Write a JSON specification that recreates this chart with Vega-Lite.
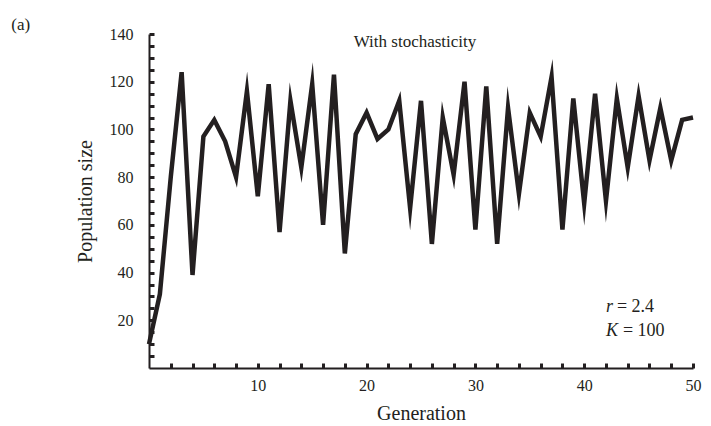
{
  "$schema": "https://vega.github.io/schema/vega-lite/v6.json",
  "width": 544,
  "height": 334,
  "autosize": {"type": "none"},
  "padding": {"left": 149, "top": 34, "right": 18, "bottom": 58},
  "background": "white",
  "config": {
    "view": {"stroke": null},
    "font": "Liberation Serif",
    "axis": {
      "labelFont": "Liberation Serif",
      "titleFont": "Liberation Serif",
      "labelFontSize": 16,
      "titleFontSize": 20,
      "titleFontWeight": "normal",
      "labelColor": "#231f20",
      "titleColor": "#231f20",
      "domainColor": "#231f20",
      "tickColor": "#231f20",
      "domainWidth": 2,
      "grid": false,
      "labelOverlap": false
    }
  },
  "data": {
    "values": [
      {"generation": 0, "population": 10},
      {"generation": 1, "population": 31},
      {"generation": 2, "population": 80},
      {"generation": 3, "population": 124},
      {"generation": 4, "population": 39},
      {"generation": 5, "population": 97},
      {"generation": 6, "population": 104},
      {"generation": 7, "population": 95},
      {"generation": 8, "population": 80},
      {"generation": 9, "population": 116},
      {"generation": 10, "population": 72},
      {"generation": 11, "population": 119},
      {"generation": 12, "population": 57},
      {"generation": 13, "population": 112},
      {"generation": 14, "population": 84},
      {"generation": 15, "population": 119},
      {"generation": 16, "population": 60},
      {"generation": 17, "population": 123},
      {"generation": 18, "population": 48},
      {"generation": 19, "population": 98},
      {"generation": 20, "population": 107},
      {"generation": 21, "population": 96},
      {"generation": 22, "population": 100},
      {"generation": 23, "population": 112},
      {"generation": 24, "population": 67},
      {"generation": 25, "population": 112},
      {"generation": 26, "population": 52},
      {"generation": 27, "population": 105},
      {"generation": 28, "population": 81},
      {"generation": 29, "population": 120},
      {"generation": 30, "population": 58},
      {"generation": 31, "population": 118},
      {"generation": 32, "population": 52},
      {"generation": 33, "population": 109},
      {"generation": 34, "population": 73},
      {"generation": 35, "population": 107},
      {"generation": 36, "population": 97},
      {"generation": 37, "population": 122},
      {"generation": 38, "population": 58},
      {"generation": 39, "population": 113},
      {"generation": 40, "population": 69},
      {"generation": 41, "population": 115},
      {"generation": 42, "population": 70},
      {"generation": 43, "population": 113},
      {"generation": 44, "population": 84},
      {"generation": 45, "population": 114},
      {"generation": 46, "population": 87},
      {"generation": 47, "population": 109},
      {"generation": 48, "population": 87},
      {"generation": 49, "population": 104},
      {"generation": 50, "population": 105}
    ]
  },
  "resolve": {"axis": {"x": "independent", "y": "independent"}},
  "layer": [
    {
      "mark": {"type": "line", "color": "#231f20", "strokeWidth": 4.5, "strokeJoin": "miter", "strokeMiterLimit": 10, "clip": false},
      "encoding": {
        "x": {
          "field": "generation", "type": "quantitative",
          "scale": {"domain": [0, 50], "nice": false, "zero": false},
          "axis": {
            "orient": "bottom",
            "title": "Generation",
            "values": [10, 20, 30, 40, 50],
            "tickSize": 0,
            "labelOverlap": false,
            "labelBound": false,
            "labelPadding": 9,
            "titlePadding": 10,
            "labelFlush": false
          }
        },
        "y": {
          "field": "population", "type": "quantitative",
          "scale": {"domain": [0, 140], "nice": false},
          "axis": {
            "orient": "left",
            "title": "Population size",
            "values": [20, 40, 60, 80, 100, 120, 140],
            "tickSize": 0,
            "labelOverlap": false,
            "labelPadding": 16,
            "titlePadding": 14,
            "labelFlush": false
          }
        }
      }
    },
    {
      "mark": {"type": "line", "opacity": 0, "strokeWidth": 0},
      "encoding": {
        "x": {
          "field": "generation", "type": "quantitative",
          "axis": {
            "orient": "top",
            "offset": -334,
            "title": null,
            "labels": false,
            "domain": false,
            "values": [2, 4, 6, 8, 10, 12, 14, 16, 18, 20, 22, 24, 26, 28, 30, 32, 34, 36, 38, 40, 42, 44, 46, 48, 50],
            "tickSize": 5,
            "tickWidth": 3,
            "tickColor": "#231f20"
          }
        },
        "y": {
          "field": "population", "type": "quantitative",
          "axis": {
            "orient": "right",
            "offset": -544,
            "title": null,
            "labels": false,
            "domain": false,
            "values": [5, 10, 15, 20, 25, 30, 35, 40, 45, 50, 55, 60, 65, 70, 75, 80, 85, 90, 95, 100, 105, 110, 115, 120, 125, 130, 135, 140],
            "tickSize": 5,
            "tickWidth": 3,
            "tickColor": "#231f20"
          }
        }
      }
    },
    {
      "data": {"values": [{}]},
      "mark": {"type": "text", "text": "With stochasticity", "font": "Liberation Serif", "fontSize": 17, "fill": "#231f20", "align": "center", "baseline": "alphabetic"},
      "encoding": {"x": {"datum": 24.45, "axis": null}, "y": {"datum": 134.5, "axis": null}}
    },
    {
      "data": {"values": [{}]},
      "mark": {"type": "text", "text": "(a)", "font": "Liberation Serif", "fontSize": 17, "fill": "#231f20", "align": "left", "baseline": "alphabetic"},
      "encoding": {"x": {"datum": -12.66, "axis": null}, "y": {"datum": 141.6, "axis": null}}
    },
    {
      "data": {"values": [{}]},
      "mark": {"type": "text", "text": "r", "font": "Liberation Serif", "fontStyle": "italic", "fontSize": 18, "fill": "#231f20", "align": "left", "baseline": "alphabetic"},
      "encoding": {"x": {"datum": 42, "axis": null}, "y": {"datum": 23.4, "axis": null}}
    },
    {
      "data": {"values": [{}]},
      "mark": {"type": "text", "text": "= 2.4", "font": "Liberation Serif", "fontSize": 18, "fill": "#231f20", "align": "left", "baseline": "alphabetic", "dx": 11},
      "encoding": {"x": {"datum": 42, "axis": null}, "y": {"datum": 23.4, "axis": null}}
    },
    {
      "data": {"values": [{}]},
      "mark": {"type": "text", "text": "K", "font": "Liberation Serif", "fontStyle": "italic", "fontSize": 18, "fill": "#231f20", "align": "left", "baseline": "alphabetic"},
      "encoding": {"x": {"datum": 42, "axis": null}, "y": {"datum": 13.6, "axis": null}}
    },
    {
      "data": {"values": [{}]},
      "mark": {"type": "text", "text": "= 100", "font": "Liberation Serif", "fontSize": 18, "fill": "#231f20", "align": "left", "baseline": "alphabetic", "dx": 17},
      "encoding": {"x": {"datum": 42, "axis": null}, "y": {"datum": 13.6, "axis": null}}
    }
  ]
}
